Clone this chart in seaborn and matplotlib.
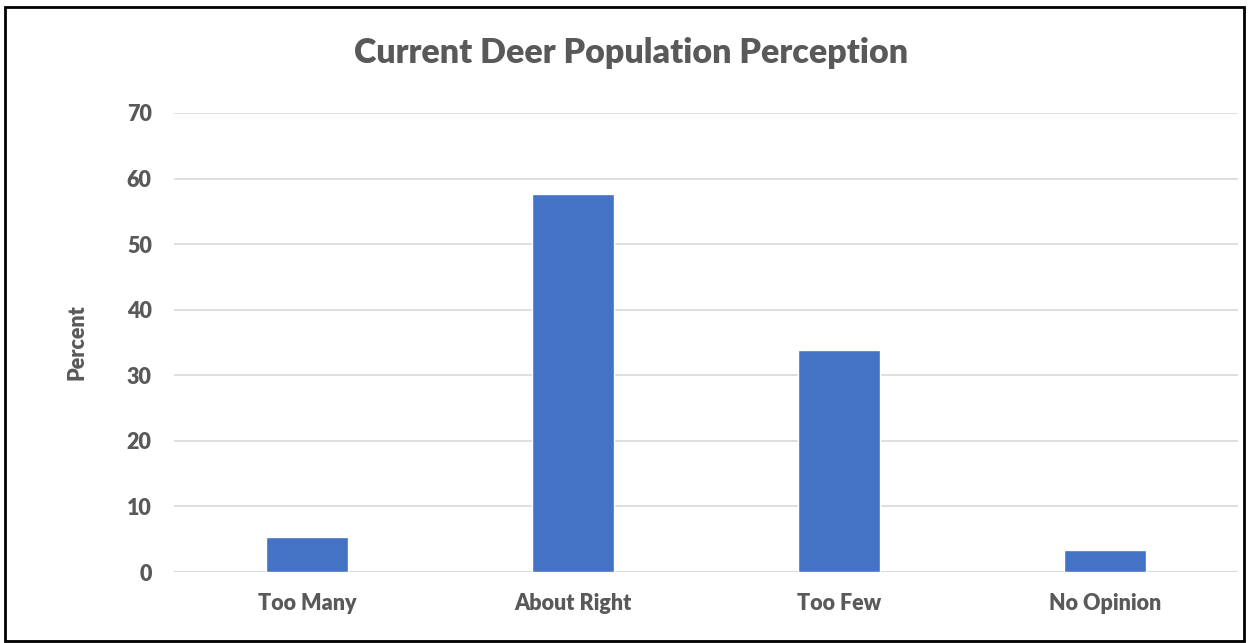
import pandas as pd
import numpy as np
import matplotlib.pyplot as plt
import seaborn as sns
from matplotlib.patches import Rectangle

categories = ['Too Many', 'About Right', 'Too Few', 'No Opinion']
percent = [5.3, 57.6, 33.8, 3.3]
yticks = [0, 10, 20, 30, 40, 50, 60, 70]

data = pd.DataFrame({'Response': categories, 'Percent': percent})

sns.set_style('white')
plt.rcParams['font.family'] = ['Lato', 'DejaVu Sans']

grey = '#595959'
fig = plt.figure(figsize=(12.48, 6.43), dpi=100)
ax = fig.add_axes([0.1394, 0.1104, 0.8526, 0.7139])

sns.barplot(x='Response', y='Percent', data=data, color='#4472c4', width=0.31,
            saturation=1, ax=ax, zorder=3)

ax.set_ylim(0, 70)
ax.set_yticks(yticks)
ax.set_xlim(-0.5, 3.5)
ax.yaxis.grid(True, color='#d9d9d9', linewidth=1.2, zorder=0)
for s in ax.spines.values():
    s.set_visible(False)
ax.axhline(0, color='#d9d9d9', linewidth=1.5, zorder=2)
ax.tick_params(axis='x', length=0, labelsize=15.5, labelcolor=grey, pad=15)
ax.tick_params(axis='y', length=0, labelsize=15.5, labelcolor=grey, pad=16)
for lab in ax.get_xticklabels() + ax.get_yticklabels():
    lab.set_fontweight('heavy')
ax.set_xlabel('')
ax.set_ylabel('Percent', fontsize=15.5, fontweight='heavy', color=grey, labelpad=28)

fig.text(0.506, 0.918, 'Current Deer Population Perception', ha='center', va='center',
         fontsize=24.5, fontweight='heavy', color=grey)

fig.patches.append(Rectangle((0.004, 0.003), 0.993, 0.986, transform=fig.transFigure,
                             fill=False, edgecolor='black', linewidth=2))

fig.savefig('out.png', dpi=100)
